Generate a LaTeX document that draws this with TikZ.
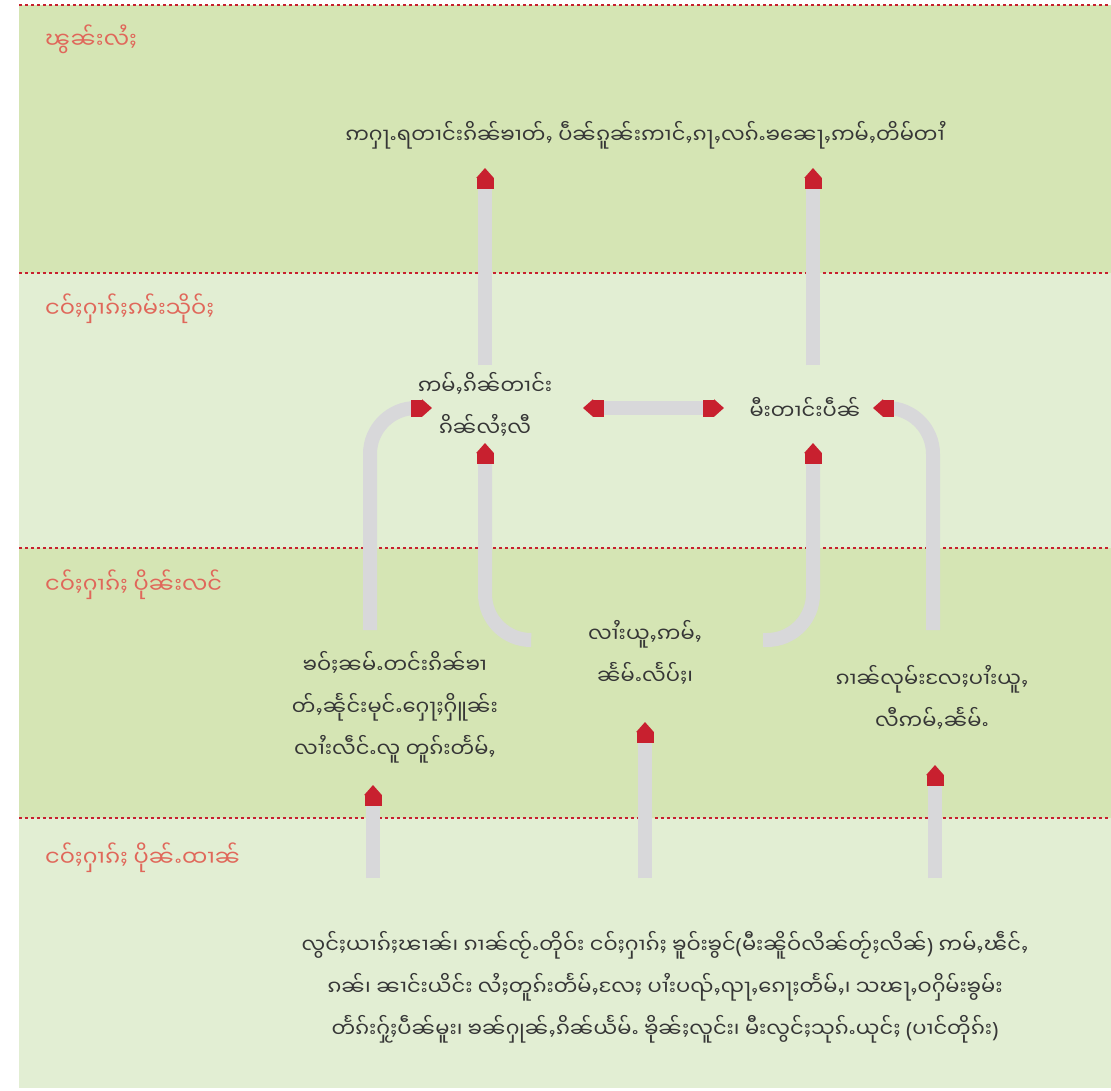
\documentclass[tikz,border=0pt]{standalone}
\usepackage{fontspec}
\usepackage{tikz}
\usetikzlibrary{arrows.meta, calc, positioning}
\newfontfamily\shanfont[Script=Myanmar]{Noto Sans Myanmar UI}
\newfontfamily\parenfont{Noto Sans}
\newcommand{\openparen}{{\parenfont(}}
\newcommand{\closeparen}{{\parenfont)}}
\definecolor{bandDark}{HTML}{D5E5B4}
\definecolor{bandLight}{HTML}{E2EED3}
\definecolor{dotRed}{HTML}{C8202F}
\definecolor{labelRed}{HTML}{E0675A}
\definecolor{barGray}{HTML}{D8D8DA}
\definecolor{textGray}{HTML}{363636}
\tikzset{
	redhead/.tip={Rectangle[length=11pt,width=17pt,sep=0pt,color=dotRed]
		Triangle[length=10pt,width=17pt,sep=0pt,color=dotRed]},
	divider/.style={draw=dotRed,
		line width=2.6pt,
		dash pattern=on 2.6pt off 3.4pt,
		},
	zonelabel/.style={anchor=west,
		inner sep=0pt,
		text=labelRed,
		font=\shanfont\fontsize{22.5}{28}\selectfont,
		},
	cause/.style={inner sep=0pt,
		align=center,
		text=textGray,
		font=\shanfont\fontsize{21}{42}\selectfont,
		},
	flow/.style={draw=barGray,
		line width=14pt,
		-redhead,
		},
	curveflow/.style={flow,
		rounded corners=46pt,
		},
}

\begin{document}
\begin{tikzpicture}[x=1pt,y=1pt]
	\useasboundingbox (0,0) rectangle (1111,-1091);

	% zones
	\fill[bandDark] (19,-5) rectangle (1111,-273);
	\fill[bandLight] (19,-273) rectangle (1111,-548);
	\fill[bandDark] (19,-548) rectangle (1111,-818);
	\fill[bandLight] (19,-818) rectangle (1111,-1088);
	\foreach \y in {-5,-273,-548,-818}
		\draw[divider] (19,\y) -- (1111,\y);

	\node[zonelabel] (result) at (45,-39) {ၽွၼ်းလႆႈ};
	\node[zonelabel] (direct) at (45,-309) {ငဝ်ႈႁၢၵ်ႈၵမ်းသိုဝ်ႈ};
	\node[zonelabel] (underlying) at (45,-585) {ငဝ်ႈႁၢၵ်ႈ ပိုၼ်းလင်};
	\node[zonelabel] (basiclabel) at (45,-858) {ငဝ်ႈႁၢၵ်ႈ ပိုၼ်ႉထၢၼ်};

	% causes
	\node[cause] (impact) at (645,-135) {ဢႁႃႉရတၢင်းၵိၼ်ၶၢတ်ႇ ပဵၼ်ၵူၼ်းဢၢင်ႇၵႃႇလၵ်ႉၶၼေႃႇဢမ်ႇတိမ်တၢႆ};
	\node[cause] (diet) at (485,-404) {ဢမ်ႇၵိၼ်တၢင်း\\ၵိၼ်လႆႈလီ};
	\node[cause] (disease) at (805,-408) {မီးတၢင်းပဵၼ်};
	\node[cause] (food) at (395,-707) {ၶဝ်ႈၼမ်ႉတင်းၵိၼ်ၶၢ\\တ်ႇၼႅုင်းမုင်ႉႁေႃႈႁိူၼ်း\\လၢႆးလဵင်ႉလူ တူၵ်းတႅမ်ႇ};
	\node[cause] (care) at (645,-652) {လၢႆးယူႇဢမ်ႇ\\ၼႅမ်ႉလႅပ်ႈ၊};
	\node[cause] (env) at (932,-697) {ၵၢၼ်လုမ်းလႄႈပၢႆးယူႇ\\လီဢမ်ႇၼႅမ်ႉ};
	\node[cause] (basic) at (665,-987) {လွင်ႈယၢၵ်ႈၽၢၼ်၊ ၵၢၼ်ၸႂ်ႉတိုဝ်း ငဝ်ႈႁၢၵ်ႈ ၶူဝ်းၶွင်\openparen မီးၼိူဝ်လိၼ်တႂ်ႈလိၼ်\closeparen{} ဢမ်ႇၽဵင်ႇ\\ၵၼ်၊ ၼၢင်းယိင်း လႆႈတူၵ်းတႅမ်ႇလႄႈ ပၢႆးပၺ်ႇၺႃႇၵေႃႈတႅမ်ႇ၊ သၽႃႇဝႁိမ်းၶွမ်း\\တႅၵ်းႁႂ်ႈပဵၼ်မူး၊ ၶၼ်ႁုၼ်ႇၵိၼ်ယႅမ်ႉ ၶိုၼ်ႈလူင်း၊ မီးလွင်ႈသုၵ်ႉယုင်ႈ \openparen ပၢင်တိုၵ်း\closeparen};

	% arrows
	\draw[flow] ($(diet)+(0,39)$) -- ($(impact)+(-160,-33)$);
	\draw[flow] ($(disease)+(8,43)$) -- ($(impact)+(168,-33)$);
	\draw[flow, redhead-redhead] ($(diet)+(98,-4)$) -- ($(disease)+(-81,0)$);
	\draw[curveflow] ($(food)+(-25,77)$) |- ($(diet)+(-53,-4)$);
	\draw[curveflow] ($(env)+(1,67)$) |- ($(disease)+(68,0)$);
	\draw[curveflow] ($(care)+(-115,12)$) -| ($(diet)+(0,-39)$);
	\draw[curveflow] ($(care)+(118,12)$) -| ($(disease)+(8,-35)$);
	\draw[flow] ($(basic)+(-292,109)$) -- ($(food)+(-22,-78)$);
	\draw[flow] ($(basic)+(-20,109)$) -- ($(care)+(0,-70)$);
	\draw[flow] ($(basic)+(270,109)$) -- ($(env)+(3,-68)$);
\end{tikzpicture}
\end{document}
